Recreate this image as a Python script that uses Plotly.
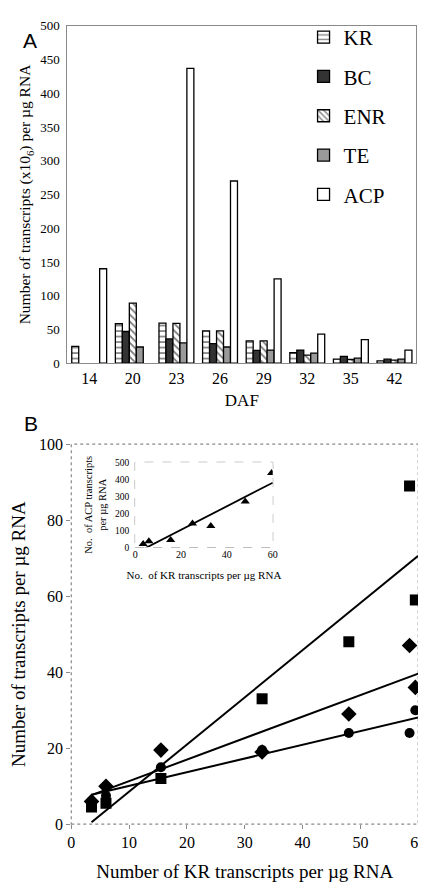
import numpy as np
import plotly.graph_objects as go

# ---------------- data ----------------
DAF = ["14", "20", "23", "26", "29", "32", "35", "42"]
KR = [25, 58.5, 59.5, 48, 33, 15.5, 6, 3.5]
BC = [None, 47, 36, 29, 19, 19.5, 10, 6]
ENR = [None, 89, 59, 48, 33, 12, 5.5, 4.5]
TE = [None, 24, 30, 24, 19.5, 15, 7.5, 6]
ACP = [140, None, 437, 270, 125, 43, 35, 19.5]

A_YTICKS = [0, 50, 100, 150, 200, 250, 300, 350, 400, 450, 500]
B_TICKS_X = [0, 10, 20, 30, 40, 50, 60]
B_TICKS_Y = [0, 20, 40, 60, 80, 100]
INSET_TICKS_X = [0, 20, 40, 60]
INSET_TICKS_Y = [0, 100, 200, 300, 400, 500]

W, H = 426, 887
SERIF = "Liberation Serif"
SANS = "Liberation Sans"


def px_x(p):
    return p / W


def px_y(p):
    return 1 - p / H


def sf(size):
    return dict(family=SERIF, size=size, color="black")


fig = go.Figure()

# ---------------- panel A: bars ----------------
bar_specs = [
    ("KR", KR, dict(color="white", pattern=dict(shape="-", size=5.5, solidity=0.3, fgcolor="black", bgcolor="white"))),
    ("BC", BC, dict(color="#333333")),
    ("ENR", ENR, dict(color="white", pattern=dict(shape="\\", size=5, solidity=0.35, fgcolor="black", bgcolor="white"))),
    ("TE", TE, dict(color="#9a9a9a")),
    ("ACP", ACP, dict(color="white")),
]
for name, vals, mk in bar_specs:
    mk = dict(mk)
    mk["line"] = dict(color="black", width=1.3)
    fig.add_trace(go.Bar(
        x=DAF, y=vals, name=name, marker=mk,
        xaxis="x", yaxis="y", legendgroup=name,
    ))

# ---------------- panel B: scatter + fits ----------------
def pairs(xs, ys):
    pts = [(a, b) for a, b in zip(xs, ys) if a is not None and b is not None]
    return np.array([p[0] for p in pts], float), np.array([p[1] for p in pts], float)


B_XMAX = 60
series_B = [
    ("ENR", ENR, "square", 11),
    ("BC", BC, "diamond", 12),
    ("TE", TE, "circle", 10),
]
for name, vals, sym, sz in series_B:
    bx, by = pairs(KR, vals)
    fig.add_trace(go.Scatter(
        x=bx, y=by, mode="markers", xaxis="x2", yaxis="y2", showlegend=False,
        marker=dict(symbol=sym, size=sz, color="black"),
    ))
    slope, icpt = np.polyfit(bx, by, 1)
    lx = np.array([bx.min(), B_XMAX])
    fig.add_trace(go.Scatter(
        x=lx, y=slope * lx + icpt, mode="lines", xaxis="x2", yaxis="y2",
        showlegend=False, line=dict(color="black", width=2),
    ))

# inset: ACP vs KR
ix, iy = pairs(KR, ACP)
fig.add_trace(go.Scatter(
    x=ix, y=iy, mode="markers", xaxis="x3", yaxis="y3", showlegend=False,
    marker=dict(symbol="triangle-up", size=8, color="black"),
))
s3, c3 = np.polyfit(ix, iy, 1)
lx3 = np.array([ix.min(), B_XMAX])
fig.add_trace(go.Scatter(
    x=lx3, y=s3 * lx3 + c3, mode="lines", xaxis="x3", yaxis="y3",
    showlegend=False, line=dict(color="black", width=1.8),
))

# ---------------- layout ----------------
gray = "#8a8a8a"
fig.update_layout(
    width=W, height=H,
    margin=dict(l=0, r=0, t=0, b=0),
    paper_bgcolor="white", plot_bgcolor="white",
    font=sf(14),
    barmode="group", bargap=0.2, bargroupgap=0,
    legend=dict(
        x=px_x(300), y=px_y(1), xanchor="left", yanchor="top",
        font=sf(21),
        bgcolor="rgba(0,0,0,0)", tracegroupgap=9,
    ),
    xaxis=dict(
        domain=[px_x(57), px_x(416)], anchor="y",
        showline=True, linecolor=gray, linewidth=1.2, mirror=True,
        ticks="", tickfont=sf(16),
        title=dict(text="DAF", font=sf(17), standoff=8),
    ),
    yaxis=dict(
        domain=[px_y(354), px_y(10)], anchor="x",
        range=[0, 500], tickvals=A_YTICKS,
        showline=True, linecolor=gray, linewidth=1.2, mirror=True,
        showgrid=False, zeroline=False, ticks="", ticklabelstandoff=4,
        tickfont=sf(13),
        title=dict(text="Number of transcripts (x10<sub>6</sub>) per µg RNA",
                   font=sf(15.5), standoff=5),
    ),
    xaxis2=dict(
        domain=[px_x(61), px_x(418)], anchor="y2",
        range=[0, B_XMAX], tickvals=B_TICKS_X,
        showline=False, showgrid=False, zeroline=False,
        ticks="outside", ticklen=4, tickcolor=gray, tickfont=sf(16),
        title=dict(text="Number of KR transcripts per µg RNA", font=sf(19), standoff=14),
    ),
    yaxis2=dict(
        domain=[px_y(824), px_y(436.5)], anchor="x2",
        range=[0, 100], tickvals=B_TICKS_Y,
        showline=False, showgrid=False, zeroline=False,
        ticks="outside", ticklen=4, tickcolor=gray, tickfont=sf(16),
        title=dict(text="Number of transcripts per µg RNA", font=sf(19), standoff=10),
    ),
    xaxis3=dict(
        domain=[px_x(126.7), px_x(268.3)], anchor="y3",
        range=[0, B_XMAX], tickvals=INSET_TICKS_X,
        showline=False, showgrid=False, zeroline=False, ticks="",
        tickfont=sf(10),
        title=dict(text="No.  of KR transcripts per µg RNA", font=sf(11), standoff=11),
    ),
    yaxis3=dict(
        domain=[px_y(541.7), px_y(455)], anchor="x3",
        range=[0, 500], tickvals=INSET_TICKS_Y,
        showline=False, showgrid=False, zeroline=False, ticks="",
        tickfont=sf(9.5), ticklabelstandoff=5,
        title=dict(text="No.  of ACP transcripts<br>per µg RNA", font=sf(10.5), standoff=6),
    ),
    shapes=[
        dict(type="rect", xref="x2 domain", yref="y2 domain", x0=0, x1=1, y0=0, y1=1,
             line=dict(color=gray, width=1.2, dash="dot"), layer="below"),
        dict(type="rect", xref="x3 domain", yref="y3 domain", x0=0, x1=1, y0=0, y1=1,
             line=dict(color=gray, width=1, dash="dash"), layer="below"),
    ],
    annotations=[
        dict(text="A", x=px_x(9.5), y=px_y(11), xref="paper", yref="paper",
             showarrow=False, font=dict(family=SANS, size=21, color="black")),
        dict(text="B", x=px_x(10.5), y=px_y(415.5), xref="paper", yref="paper",
             showarrow=False, font=dict(family=SANS, size=21, color="black")),
    ],
)

fig.write_html("out.html")
